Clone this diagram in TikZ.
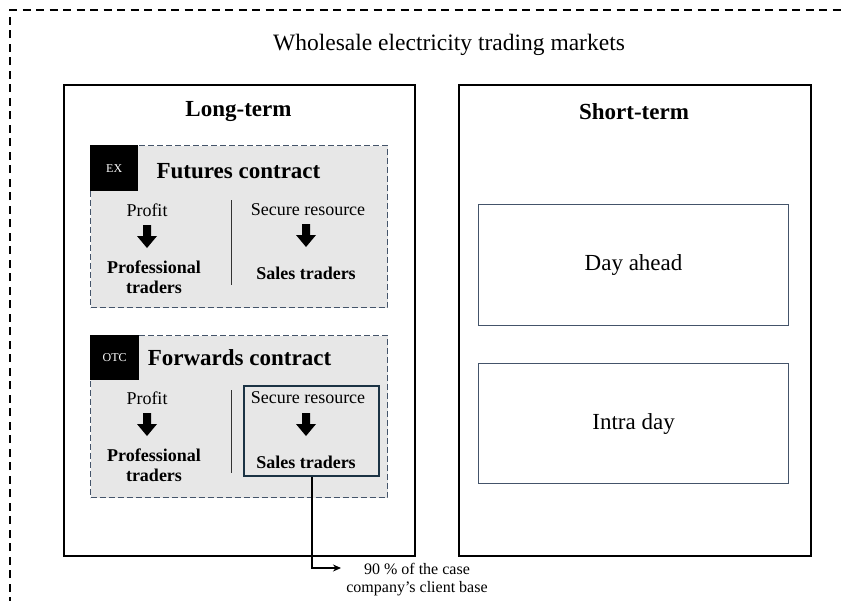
\documentclass[tikz,border=0pt]{standalone}
\usepackage{fontspec}
\setmainfont{Liberation Serif}
\usetikzlibrary{arrows.meta}

\definecolor{panelgray}{HTML}{E7E7E7}
\definecolor{slateline}{HTML}{44546A}
\definecolor{navyline}{HTML}{1B3344}

\newcommand{\fs}[1]{\fontsize{#1}{#1}\selectfont}

\tikzset{
  outerframe/.style={draw=black, line width=1.3pt, dash pattern=on 8pt off 5.5pt},
  marketbox/.style={draw=black, line width=1.5pt, inner sep=0pt, anchor=north west},
  panel/.style={draw=slateline, fill=panelgray, line width=1pt, dash pattern=on 6pt off 3pt, inner sep=0pt, anchor=north west},
  segbox/.style={draw=slateline, line width=1.1pt, inner sep=0pt, anchor=north west},
  focusbox/.style={draw=navyline, line width=2.2pt, inner sep=0pt, anchor=north west},
  tag/.style={fill=black, text=white, font=\fs{12}, inner sep=0pt, anchor=north west},
  heading/.style={font=\bfseries\fs{23}},
  contract/.style={font=\bfseries\fs{23}},
  plain/.style={font=\fs{18}},
  strong/.style={font=\bfseries\fs{18}, align=center},
  segtext/.style={font=\fs{23}},
  note/.style={font=\fs{16}, align=center},
  divider/.style={draw=black!80, line width=0.9pt},
  blockdown/.pic={\fill[black] (-4,0) -- (4,0) -- (4,11) -- (10,11) -- (0,23) -- (-10,11) -- (-4,11) -- cycle;}
}

\begin{document}
\begin{tikzpicture}[x=1pt, y=-1pt]
  \useasboundingbox (0,0) rectangle (842,600);

  % outer dashed frame, running off the page on the right and at the bottom
  \draw[outerframe] (10,605) -- (10,10) -- (847,10);
  \node[font=\fs{23.5}] (title) at (449,45) {Wholesale electricity trading markets};

  % the two market columns
  \node[marketbox, minimum width=351pt, minimum height=471pt] (long) at (63,84) {};
  \node[marketbox, minimum width=352pt, minimum height=471pt] (short) at (458,84) {};
  \node[heading] (longlbl) at (238.5,112) {Long-term};
  \node[heading] (shortlbl) at (634,112) {Short-term};

  % futures contract panel
  \node[panel, minimum width=297pt, minimum height=162pt] (fut) at (90,145) {};
  \node[tag, minimum width=48pt, minimum height=46pt] (ex) at (90,145) {EX};
  \node[contract] (futlbl) at (238.5,171) {Futures contract};
  \node[plain] (fprofit) at (147,210) {Profit};
  \pic at (147,225) {blockdown};
  \node[strong] (fpro) at (154,277) {Professional\\[2pt]traders};
  \coordinate (fdivtop) at (231,200);
  \coordinate (fdivbot) at (231,285);
  \draw[divider] (fdivtop) -- (fdivbot);
  \node[plain] (fsecure) at (308,210) {Secure resource};
  \pic at (306,224) {blockdown};
  \node[strong] (fsales) at (306,273) {Sales traders};

  % forwards contract panel
  \node[panel, minimum width=297pt, minimum height=162pt] (fwd) at (90,335) {};
  \node[tag, minimum width=49pt, minimum height=45pt] (otc) at (90,335) {OTC};
  \node[contract] (fwdlbl) at (239.5,358) {Forwards contract};
  \node[plain] (wprofit) at (147,398) {Profit};
  \pic at (147,413) {blockdown};
  \node[strong] (wpro) at (154,465) {Professional\\[2pt]traders};
  \coordinate (wdivtop) at (231,390);
  \coordinate (wdivbot) at (231,473);
  \draw[divider] (wdivtop) -- (wdivbot);
  \node[focusbox, minimum width=135pt, minimum height=90pt] (focus) at (243,385) {};
  \node[plain] (wsecure) at (308,398) {Secure resource};
  \pic at (306,413) {blockdown};
  \node[strong] (wsales) at (306,462) {Sales traders};

  % short-term segments
  \node[segbox, minimum width=310pt, minimum height=121pt] (dayahead) at (478,204) {};
  \node[segtext] at (dayahead.center) {Day ahead};
  \node[segbox, minimum width=310pt, minimum height=120pt] (intraday) at (478,363) {};
  \node[segtext] at (intraday.center) {Intra day};

  % share of the client base
  \coordinate (bend) at (focus.south |- 0,568);
  \coordinate (tip) at (341,568);
  \draw[line width=2.2pt, -{Stealth[length=8pt,width=7pt]}] (focus.south) -- (bend) -- (tip);
  \node[note] (share) at (417,580) {90 \% of the case\\[2pt]company’s client base};
\end{tikzpicture}
\end{document}
